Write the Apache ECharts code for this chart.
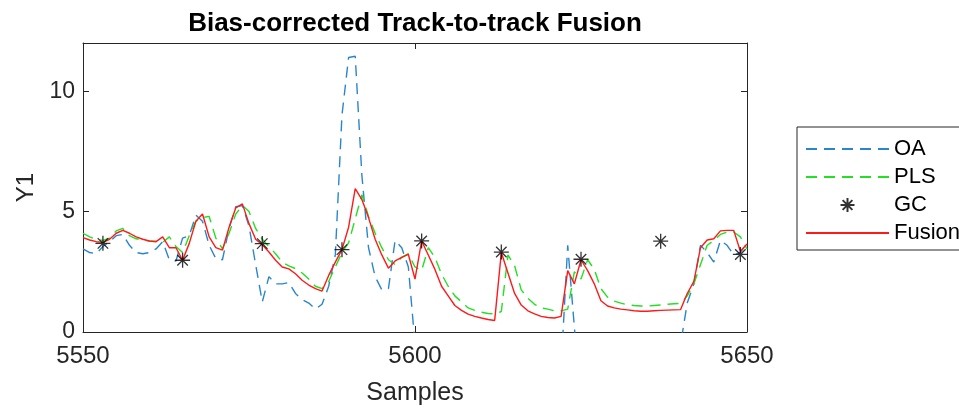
<!DOCTYPE html>
<html>
<head>
<meta charset="utf-8">
<script src="https://cdn.jsdelivr.net/npm/echarts@6/dist/echarts.min.js"></script>
<style>
  html, body { margin: 0; padding: 0; background: #fff; }
  #chart { width: 959px; height: 408px; }
</style>
</head>
<body>
<div id="chart"></div>
<script>
// sample index runs 5550 .. 5650, one value per sample
const firstSample = 5550;

const oaValues = [
    3.45, 3.3, 3.25, 3.55, 3.75, 4.0, 4.05, 3.6, 3.3, 3.25,
    3.3, 3.45, 3.75, 3.0, 2.95, 3.9, 4.0, 4.85, 4.6, 3.6,
    3.05, 3.0, 4.3, 5.2, 5.25, 4.4, 2.8, 1.25, 2.3, 2.0,
    2.0, 2.05, 1.6, 1.35, 1.2, 0.95, 1.15, 1.9, 3.2, 9.0,
    11.4, 11.45, 6.5, 3.5, 2.3, 1.75, 1.8, 3.8, 3.5, 2.7,
    -0.5, -3, -3, -3, -3, -3, -3, -3, -3, -3,
    -3, -3, -3, -3, -3, -3, -3, -3, -3, -3,
    -3, -3, -1.5, 3.6, 0.2, -3, -3, -3, -3, -3,
    -3, -3, -3, -3, -3, -3, -3, -3, -3, -3,
    -0.5, 1.2, 2.0, 3.6, 3.3, 2.9, 3.8, 3.6, 3.2, 3.3,
    3.7
];

const plsValues = [
    4.1, 3.95, 3.85, 3.8, 3.9, 4.2, 4.3, 4.0, 3.87, 3.82,
    3.78, 3.77, 3.72, 3.95, 3.55, 3.3, 4.0, 4.6, 4.75, 4.8,
    3.9, 3.45, 4.1, 4.9, 5.25, 5.0, 4.3, 3.85, 3.55, 3.25,
    2.9, 2.75, 2.63, 2.45, 2.2, 1.9, 1.8, 2.1, 2.7, 3.3,
    3.7, 4.7, 5.7, 4.8, 4.1, 3.5, 3.0, 2.8, 3.1, 3.25,
    2.7, 2.55, 3.5, 3.1, 2.4, 1.9, 1.5, 1.25, 1.0, 0.9,
    0.82, 0.77, 0.75, 0.85, 3.2, 2.75, 1.75, 1.4, 1.15, 1.0,
    0.95, 0.88, 0.88, 0.95, 2.5, 2.2, 3.0, 2.6, 1.8, 1.45,
    1.28, 1.2, 1.13, 1.1, 1.08, 1.08, 1.1, 1.12, 1.15, 1.17,
    1.19, 1.5, 2.0, 2.8, 3.6, 3.8, 4.05, 4.15, 4.15, 3.95,
    3.45
];

const fusionValues = [
    3.92, 3.82, 3.75, 3.72, 3.85, 4.1, 4.22, 4.1, 3.95, 3.85,
    3.78, 3.75, 3.95, 3.5, 3.5, 2.98, 3.68, 4.6, 4.9, 3.95,
    3.5, 3.4, 4.35, 5.15, 5.32, 4.5, 3.85, 3.62, 3.32, 2.98,
    2.7, 2.62, 2.42, 2.15, 1.95, 1.8, 1.7, 2.35, 2.9, 3.42,
    4.35, 5.95, 5.5, 4.75, 3.85, 3.2, 2.65, 2.95, 3.1, 3.22,
    2.2, 3.78, 3.2, 2.6, 1.9, 1.5, 1.1, 0.9, 0.74, 0.65,
    0.58, 0.52, 0.48, 3.3, 2.45, 1.6, 1.12, 0.88, 0.75, 0.65,
    0.6, 0.58, 0.65, 2.55, 2.0, 3.0, 2.55, 2.0, 1.3, 1.08,
    1.0, 0.95, 0.92, 0.88, 0.86, 0.86, 0.88, 0.9, 0.91, 0.92,
    0.93, 1.6, 2.1, 3.5, 3.82, 3.87, 4.2, 4.22, 4.22, 3.35,
    3.65
];

const gcSamples = [5553, 5565, 5577, 5589, 5601, 5613, 5625, 5637, 5649];
const gcValues = [3.68, 2.98, 3.67, 3.42, 3.78, 3.32, 3.02, 3.77, 3.22];

const xTicks = [5550, 5600, 5650];
const yTicks = [0, 5, 10];

const withSamples = (vals) => vals.map((v, i) => [firstSample + i, v]);

const axisColor = '#262626';
const font = 'Liberation Sans, Arial, Helvetica, sans-serif';
const starPath = 'path://M0,-10L0,10M-10,0L10,0M-7,-7L7,7M-7,7L7,-7';

const chart = echarts.init(document.getElementById('chart'));

const baseX = {
    type: 'value',
    min: xTicks[0],
    max: xTicks[xTicks.length - 1],
    interval: xTicks[1] - xTicks[0],
    axisLine: { show: true, onZero: false, lineStyle: { color: axisColor, width: 1 } },
    axisTick: { show: true, inside: true, length: 6, lineStyle: { color: axisColor } },
    splitLine: { show: false },
};
const baseY = {
    type: 'value',
    min: 0,
    max: 12,
    interval: yTicks[1] - yTicks[0],
    axisLine: { show: true, onZero: false, lineStyle: { color: axisColor, width: 1 } },
    axisTick: { show: true, inside: true, length: 6, lineStyle: { color: axisColor } },
    splitLine: { show: false },
};

// line entries in the legend show only the line, no marker
const noMarker = { opacity: 0 };

chart.setOption({
    animation: false,
    textStyle: { fontFamily: font },
    graphic: [{
        type: 'text',
        x: 415,
        y: 24,
        style: {
            text: 'Bias-corrected Track-to-track Fusion',
            fill: '#000',
            font: 'bold 26px ' + font,
            textAlign: 'center',
            textVerticalAlign: 'middle',
        },
    }],
    grid: { left: 83, right: 212, top: 43, bottom: 76, outerBoundsMode: 'none' },
    legend: {
        orient: 'vertical',
        left: 797,
        top: 127,
        padding: [11, 10, 6, 8],
        itemWidth: 83,
        itemHeight: 14,
        itemGap: 6,
        borderColor: axisColor,
        borderWidth: 1,
        textStyle: { fontSize: 22, lineHeight: 22, color: '#000', fontFamily: font },
        data: [
            { name: 'OA', itemStyle: noMarker },
            { name: 'PLS', itemStyle: noMarker },
            { name: 'GC' },
            { name: 'Fusion', itemStyle: noMarker },
        ],
    },
    xAxis: [
        Object.assign({}, baseX, {
            position: 'bottom',
            axisLabel: { fontSize: 24, color: axisColor, margin: 12, formatter: (v) => String(v) },
            name: 'Samples',
            nameLocation: 'middle',
            nameGap: 49,
            nameTextStyle: { fontSize: 25, color: axisColor },
        }),
        Object.assign({}, baseX, { position: 'top', axisLabel: { show: false } }),
    ],
    yAxis: [
        Object.assign({}, baseY, {
            position: 'left',
            axisLabel: {
                fontSize: 23,
                color: axisColor,
                margin: 8,
                formatter: (v) => (yTicks.includes(v) ? String(v) : ''),
            },
            name: 'Y1',
            nameLocation: 'middle',
            nameGap: 44,
            nameTextStyle: { fontSize: 24, color: axisColor },
        }),
        Object.assign({}, baseY, { position: 'right', axisLabel: { show: false } }),
    ],
    series: [
        {
            name: 'OA',
            type: 'line',
            data: withSamples(oaValues),
            showSymbol: false,
            symbol: 'none',
            color: '#2a86cc',
            lineStyle: { color: '#2a86cc', width: 1.4, type: [11, 7] },
            z: 2,
        },
        {
            name: 'PLS',
            type: 'line',
            data: withSamples(plsValues),
            showSymbol: false,
            symbol: 'none',
            color: '#22e022',
            lineStyle: { color: '#22e022', width: 1.4, type: [11, 7] },
            z: 3,
        },
        {
            name: 'GC',
            type: 'scatter',
            data: gcSamples.map((s, i) => [s, gcValues[i]]),
            symbol: starPath,
            symbolSize: 15,
            itemStyle: { color: 'none', borderColor: '#000', borderWidth: 1.3 },
            z: 5,
        },
        {
            name: 'Fusion',
            type: 'line',
            data: withSamples(fusionValues),
            showSymbol: false,
            symbol: 'none',
            color: '#ff1a1a',
            lineStyle: { color: '#ff1a1a', width: 1.4 },
            z: 4,
        },
    ],
});
</script>
</body>
</html>
